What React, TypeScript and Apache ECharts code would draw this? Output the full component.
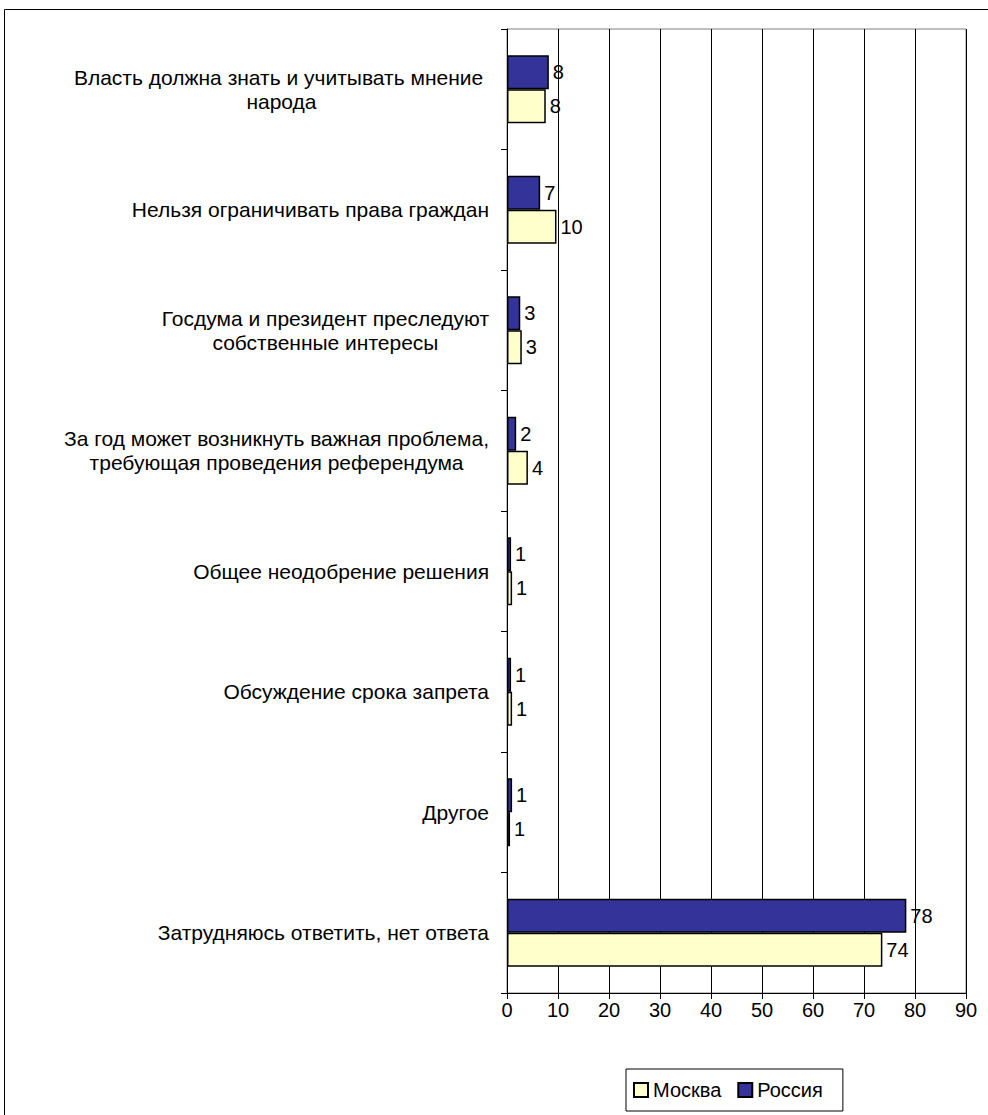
import React, { useEffect, useRef } from "react";
import * as echarts from "echarts";

const categories = [
  "Власть должна знать и учитывать мнение \nнарода",
  "Нельзя ограничивать права граждан",
  "Госдума и президент преследуют\nсобственные интересы",
  "За год может возникнуть важная проблема,\nтребующая проведения референдума",
  "Общее неодобрение решения",
  "Обсуждение срока запрета",
  "Другое",
  "Затрудняюсь ответить, нет ответа",
];
const russia = [8.2, 6.5, 2.6, 1.8, 0.8, 0.8, 1.0, 78.3];
const moscow = [7.6, 9.7, 2.9, 4.1, 1.0, 1.0, 0.6, 73.6];
const xTicks = { min: 0, max: 90, interval: 10 };

const FONT = "Liberation Sans, Arial, sans-serif";
const FS = 20;
const CAT_FS = 21;

export default function App() {
  const ref = useRef<HTMLDivElement>(null);
  useEffect(() => {
    if (!ref.current) return;
    const chart = echarts.init(ref.current, null, { renderer: "svg" });
    const barLabel = {
      show: true,
      position: "right",
      distance: 4,
      color: "#000",
      fontSize: FS,
      fontFamily: FONT,
      formatter: (p: any) => String(Math.round(p.value)),
    };
    chart.setOption({
      animation: false,
      backgroundColor: "#fff",
      textStyle: { fontFamily: FONT },
      graphic: [
        {
          type: "rect",
          shape: { x: 4.5, y: 9.5, width: 1100, height: 1200 },
          style: { fill: "none", stroke: "#000", lineWidth: 1 },
          silent: true,
        },
      ],
      grid: {
        left: 507,
        right: 22,
        top: 29,
        bottom: 122,
        show: true,
        borderColor: "#808080",
        borderWidth: 1,
      },
      legend: {
        left: 626,
        top: 1069,
        data: ["Москва", "Россия"],
        orient: "horizontal",
        icon: "rect",
        padding: [11, 20, 11, 7],
        borderColor: "#000",
        borderWidth: 1,
        itemWidth: 14,
        itemHeight: 14,
        itemGap: 16,
        textStyle: { fontSize: FS, fontFamily: FONT, color: "#000" },
      },
      xAxis: {
        type: "value",
        min: xTicks.min,
        max: xTicks.max,
        interval: xTicks.interval,
        axisLine: { show: true, lineStyle: { color: "#000", width: 1 } },
        axisTick: { show: true, length: 6, lineStyle: { color: "#000" } },
        axisLabel: { fontSize: FS, color: "#000", fontFamily: FONT, margin: 7 },
        splitLine: { show: true, lineStyle: { color: "#000", width: 1 } },
      },
      yAxis: {
        type: "category",
        inverse: true,
        data: categories,
        axisLine: { show: true, lineStyle: { color: "#000", width: 1 } },
        axisTick: { show: true, length: 6, lineStyle: { color: "#000" } },
        axisLabel: {
          fontSize: CAT_FS,
          color: "#000",
          fontFamily: FONT,
          margin: 18,
          lineHeight: 24,
          formatter: (v: string) =>
            v
              .split("\n")
              .map((l) => "{c|" + l + "}")
              .join("\n"),
          rich: {
            c: { align: "center", fontSize: CAT_FS, fontFamily: FONT, color: "#000", lineHeight: 24 },
          },
        },
      },
      series: [
        {
          name: "Россия",
          type: "bar",
          data: russia,
          barWidth: 34,
          barGap: "0%",
          itemStyle: { color: "#333399", borderColor: "#000", borderWidth: 1.5 },
          label: barLabel,
        },
        {
          name: "Москва",
          type: "bar",
          data: moscow,
          barWidth: 34,
          barGap: "0%",
          itemStyle: { color: "#FFFFCC", borderColor: "#000", borderWidth: 1.5 },
          label: barLabel,
        },
      ],
    });
    return () => chart.dispose();
  }, []);
  return (
    <div
      ref={ref}
      style={{ position: "fixed", left: 0, top: 0, width: 988, height: 1115 }}
    />
  );
}
